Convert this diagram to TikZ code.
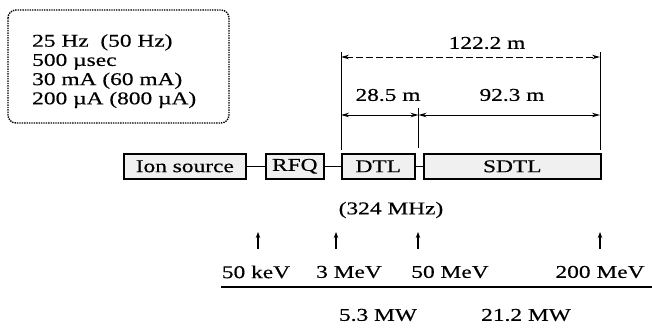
\documentclass[tikz,border=0pt]{standalone}
\usepackage{fontspec}
\setmainfont{Liberation Serif}[FakeStretch=1.3, FakeBold=0.4]
\usetikzlibrary{arrows.meta}
\begin{document}
\begin{tikzpicture}[x=1pt,y=-1pt,
  every node/.style={inner sep=0pt, font=\fontsize{18}{18}\selectfont},
  unit/.style={draw, line width=1.6pt, fill=black!6, minimum height=25pt, anchor=north west},
  link/.style={line width=1.5pt},
  dimline/.style={line width=1pt, {Stealth[length=8pt,width=4.5pt]}-{Stealth[length=8pt,width=4.5pt]}},
  extline/.style={line width=0.9pt},
  uparrow/.style={line width=1.4pt, -{Stealth[length=6pt,width=4.5pt]}},
  lbl/.style={anchor=center}]
\useasboundingbox (0,0) rectangle (652,330);
% parameter box
\draw[densely dotted, line width=1.4pt, rounded corners=8pt] (8,10) rectangle (229,123);
\node[anchor=north west, align=left, font=\fontsize{18}{19.2}\selectfont] (params) at (32,34)
  {25 Hz\ \ (50 Hz)\\500 µsec\\30 mA (60 mA)\\200 µA (800 µA)};
% units
\node[unit, minimum width=122pt] (ion) at (123,153) {Ion source};
\node[unit, minimum width=58pt] (rfq) at (265,153) {RFQ};
\node[unit, minimum width=73pt] (dtl) at (341,153) {DTL};
\node[unit, minimum width=177pt] (sdtl) at (423,153) {SDTL};
\draw[link] (ion.east) -- (rfq.west);
\draw[link] (rfq.east) -- (dtl.west);
\draw[link] (dtl.east) -- (sdtl.west);
% dimension lines
\coordinate (eL) at (341,52);
\coordinate (eR) at (600,52);
\coordinate (eM) at (418.5,108);
\coordinate (bL) at (341,150);
\coordinate (bR) at (600,150);
\coordinate (bM) at (418.5,148);
\draw[extline] (eL) -- (bL);
\draw[extline] (eR) -- (bR);
\draw[extline] (eM) -- (bM);
\coordinate (t1) at (341,57);
\coordinate (t2) at (600,57);
\draw[dimline, dash pattern=on 7pt off 3pt] (t1) -- (t2);
\coordinate (s1) at (341,115);
\coordinate (s2) at (418.5,115);
\coordinate (s3) at (600,115);
\draw[dimline] (s1) -- (s2);
\draw[dimline] (s2) -- (s3);
\node[lbl] (len1) at (487,43) {122.2 m};
\node[lbl] (len2) at (388,95) {28.5 m};
\node[lbl] (len3) at (512,95) {92.3 m};
% frequency
\node[lbl] (freq) at (391,210) {(324 MHz)};
% energy arrows
\foreach \n/\x in {a1/258, a2/336, a3/418, a4/600}{
  \coordinate (\n b) at (\x,249);
  \coordinate (\n t) at (\x,232);
  \draw[uparrow] (\n b) -- (\n t);
}
\node[lbl] (en1) at (256,272) {50 keV};
\node[lbl] (en2) at (349,272) {3 MeV};
\node[lbl] (en3) at (450,272) {50 MeV};
\node[lbl] (en4) at (600,272) {200 MeV};
\coordinate (bar1) at (221,287);
\coordinate (bar2) at (652,287);
\draw[line width=2.8pt] (bar1) -- (bar2);
\node[lbl] (pw1) at (378,315) {5.3 MW};
\node[lbl] (pw2) at (526,315) {21.2 MW};
\end{tikzpicture}
\end{document}
